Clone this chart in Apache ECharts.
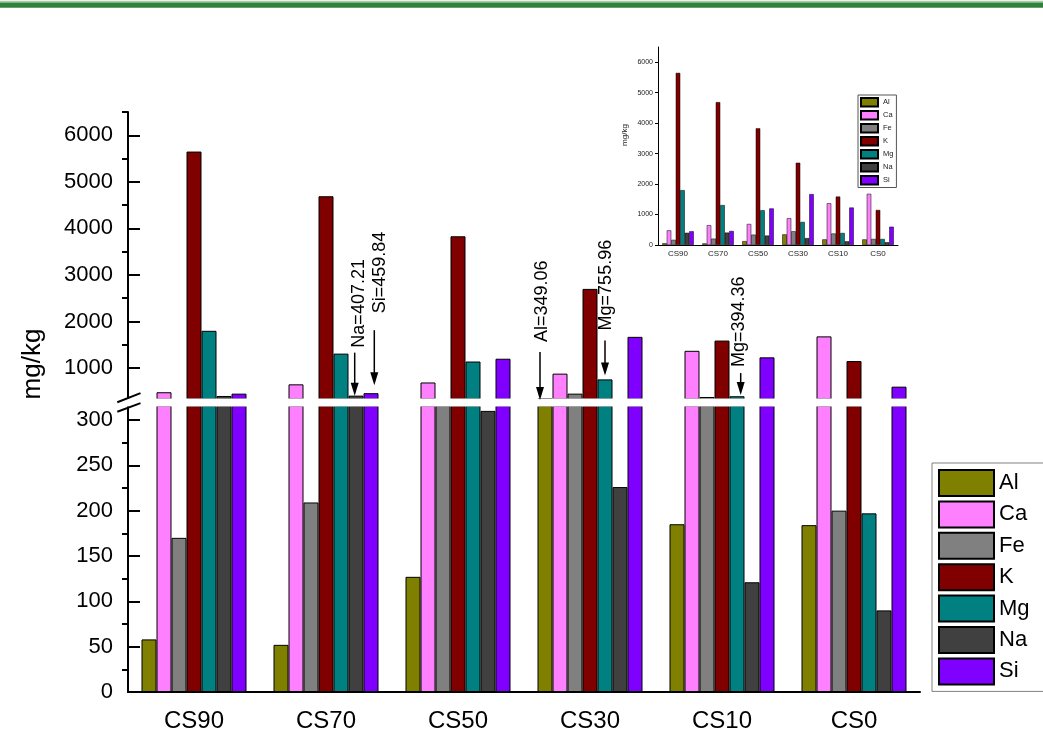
<!DOCTYPE html>
<html><head><meta charset="utf-8">
<script src="https://cdn.jsdelivr.net/npm/echarts@6/dist/echarts.min.js"></script>
<style>html,body{margin:0;padding:0;background:#fff}#c{width:1043px;height:739px}</style>
</head><body><div id="c"></div>
<script>
// ---- data ----
const categories = ['CS90', 'CS70', 'CS50', 'CS30', 'CS10', 'CS0'];
const elements = ['Al', 'Ca', 'Fe', 'K', 'Mg', 'Na', 'Si'];
const Al = [58, 52, 127, 349.06, 185, 184];
const Ca = [480, 650, 690, 880, 1370, 1680];
const Fe = [170, 209, 340, 450, 378, 200];
const K  = [5650, 4690, 3830, 2700, 1590, 1150];
const Mg = [1800, 1310, 1140, 755.96, 394.36, 197];
const Na = [400, 407.21, 310, 226, 121, 90];
const Si = [450, 459.84, 1200, 1670, 1230, 600];
const upperTicks = [1000, 2000, 3000, 4000, 5000, 6000];
const upperMinorTicks = [1500, 2500, 3500, 4500, 5500, 6500];
const lowerTicks = [0, 50, 100, 150, 200, 250, 300];
const lowerMinorTicks = [25, 75, 125, 175, 225, 275];
const insetTicks = [0, 1000, 2000, 3000, 4000, 5000, 6000];
const annoElements = ['Na', 'Si', 'Al', 'Mg', 'Mg'];
const annoCategories = ['CS70', 'CS70', 'CS30', 'CS30', 'CS10'];
const annoValues = [407.21, 459.84, 349.06, 755.96, 394.36];

// ---- layout / style ----
const FONT = "'Liberation Sans', Arial, sans-serif";
const colors = ['#808000', '#FF80FF', '#808080', '#800000', '#008080', '#404040', '#8000FF'];
const seriesData = { Al, Ca, Fe, K, Mg, Na, Si };
const UPPER = { top: 112, height: 287, min: 335, max: 6500 };
const LOWER = { top: 406, height: 286, min: 0, max: 315.4 };
const LEFT = 128, WIDTH = 792, BAR_W = 15;
const INSET = { left: 658, top: 47, width: 240, height: 198 };
const annoLayout = [
  { dx: -1.3, tipGap: 0, len: 43, textGap: 5, textDx: 3.5 },
  { dx: 3.3, tipGap: 8, len: 55, textGap: 17, textDx: 9 },
  { dx: -5, tipGap: -1.7, len: 48, textGap: 10, textDx: -2.5 },
  { dx: 0, tipGap: 4, len: 35, textGap: 10, textDx: 1 },
  { dx: 3.7, tipGap: 1.2, len: 22, textGap: 6, textDx: 2 }
];
const plain = v => String(v);

const chart = echarts.init(document.getElementById('c'), null, { renderer: 'canvas' });

const series = [];
elements.forEach((el, i) => {
  const vals = seriesData[el];
  const st = { color: colors[i], borderColor: '#000', borderWidth: 1 };
  series.push({ name: el, type: 'bar', xAxisIndex: 0, yAxisIndex: 0, barWidth: BAR_W, barGap: '0%',
    data: vals.map(v => v > UPPER.min ? v : '-'), itemStyle: st, clip: true, silent: true });
  series.push({ name: el, type: 'bar', xAxisIndex: 1, yAxisIndex: 2, barWidth: BAR_W, barGap: '0%',
    data: vals.slice(), itemStyle: st, clip: true, silent: true });
  series.push({ name: el, type: 'bar', xAxisIndex: 2, yAxisIndex: 4, barWidth: 4.5, barGap: '0%',
    data: vals.slice(), itemStyle: { color: colors[i], borderColor: '#000', borderWidth: 0.5 }, clip: true, silent: true });
});

const axisBlack = { color: '#000', width: 2 };

const option = {
  animation: false,
  backgroundColor: '#fff',
  textStyle: { fontFamily: FONT },
  grid: [
    { left: LEFT, top: UPPER.top, width: WIDTH, height: UPPER.height },
    { left: LEFT, top: LOWER.top, width: WIDTH, height: LOWER.height },
    { left: INSET.left, top: INSET.top, width: INSET.width, height: INSET.height }
  ],
  xAxis: [
    { gridIndex: 0, type: 'category', data: categories, show: false },
    { gridIndex: 1, type: 'category', data: categories,
      axisLine: { lineStyle: axisBlack },
      axisTick: { alignWithLabel: true, length: 12, lineStyle: axisBlack },
      axisLabel: { fontSize: 24, color: '#000', margin: 17, fontFamily: FONT } },
    { gridIndex: 2, type: 'category', data: categories,
      axisLine: { lineStyle: { color: '#000', width: 1 } },
      axisTick: { alignWithLabel: true, length: 3, lineStyle: { color: '#000', width: 1 } },
      axisLabel: { fontSize: 8, color: '#222', margin: 5, fontFamily: FONT } }
  ],
  yAxis: [
    { gridIndex: 0, type: 'value', min: UPPER.min, max: UPPER.max, position: 'left',
      axisLine: { show: true, lineStyle: axisBlack },
      axisTick: { show: true, inside: true, length: 12, lineStyle: axisBlack, customValues: upperTicks },
      axisLabel: { customValues: upperTicks, formatter: plain, fontSize: 22, color: '#000', margin: 15, fontFamily: FONT },
      splitLine: { show: false } },
    { gridIndex: 0, type: 'value', min: UPPER.min, max: UPPER.max, position: 'left',
      axisLine: { show: false },
      axisTick: { show: true, inside: false, length: 6, lineStyle: axisBlack, customValues: upperMinorTicks },
      axisLabel: { show: false }, splitLine: { show: false } },
    { gridIndex: 1, type: 'value', min: LOWER.min, max: LOWER.max, position: 'left',
      axisLine: { show: true, lineStyle: axisBlack },
      axisTick: { show: true, inside: true, length: 12, lineStyle: axisBlack, customValues: lowerTicks },
      axisLabel: { customValues: lowerTicks, formatter: plain, fontSize: 22, color: '#000', margin: 15, fontFamily: FONT },
      splitLine: { show: false } },
    { gridIndex: 1, type: 'value', min: LOWER.min, max: LOWER.max, position: 'left',
      axisLine: { show: false },
      axisTick: { show: true, inside: false, length: 6, lineStyle: axisBlack, customValues: lowerMinorTicks },
      axisLabel: { show: false }, splitLine: { show: false } },
    { gridIndex: 2, type: 'value', min: 0, max: 6500, position: 'left',
      axisLine: { show: true, lineStyle: { color: '#000', width: 1 } },
      axisTick: { show: true, inside: false, length: 3, lineStyle: { color: '#000', width: 1 }, customValues: insetTicks },
      axisLabel: { customValues: insetTicks, formatter: plain, fontSize: 7, color: '#222', margin: 5, fontFamily: FONT },
      splitLine: { show: false } }
  ],
  legend: [
    { data: elements, orient: 'vertical', left: 932, top: 463, icon: 'rect',
      itemWidth: 55, itemHeight: 26, itemGap: 3.4, selectedMode: false,
      textStyle: { fontSize: 22, color: '#000', fontFamily: FONT },
      borderColor: '#808080', borderWidth: 1, padding: [6, 40, 6, 6], backgroundColor: '#fff' },
    { data: elements, orient: 'vertical', left: 858, top: 95, icon: 'rect',
      itemWidth: 17, itemHeight: 8.5, itemGap: 2.5, selectedMode: false,
      textStyle: { fontSize: 7.5, color: '#222', fontFamily: FONT },
      borderColor: '#555', borderWidth: 1, padding: [2, 3, 2, 2], backgroundColor: '#fff' }
  ],
  series: series
};
chart.setOption(option);

// ---- decorations & annotations (positions from the chart's own scales) ----
const gfx = [
  { type: 'rect', shape: { x: 0, y: 0.8, width: 1043, height: 1.6 }, style: { fill: '#A9C9A9' }, z: 100 },
  { type: 'rect', shape: { x: 0, y: 2.4, width: 1043, height: 5.4 }, style: { fill: '#31813A' }, z: 100 },
  { type: 'rect', shape: { x: 120, y: UPPER.top + UPPER.height - 0.5, width: 802, height: LOWER.top - (UPPER.top + UPPER.height) + 1.1 }, style: { fill: '#fff' }, z: 100 },
  { type: 'line', shape: { x1: 117.3, y1: 402.3, x2: 140.5, y2: 393.1 }, style: { stroke: '#000', lineWidth: 2 }, z: 101 },
  { type: 'line', shape: { x1: 117.3, y1: 411.7, x2: 140.5, y2: 403.1 }, style: { stroke: '#000', lineWidth: 2 }, z: 101 },
  { type: 'text', x: 33, y: 364, rotation: Math.PI / 2,
    style: { text: 'mg/kg', fontSize: 26, fontFamily: FONT, fill: '#000', align: 'center', verticalAlign: 'middle' }, z: 101 },
  { type: 'text', x: 625, y: 135, rotation: Math.PI / 2,
    style: { text: 'mg/kg', fontSize: 8, fontFamily: FONT, fill: '#222', align: 'center', verticalAlign: 'middle' }, z: 101 }
];

const gridBottom = UPPER.top + UPPER.height;
annoValues.forEach((v, k) => {
  const ci = categories.indexOf(annoCategories[k]);
  const si = elements.indexOf(annoElements[k]);
  const p = chart.convertToPixel({ xAxisIndex: 0, yAxisIndex: 0 }, [ci, v]);
  const barX = p[0] + (si - 3) * BAR_W;
  const top = Math.min(p[1], gridBottom);
  const L = annoLayout[k];
  const tipY = top - L.tipGap;
  const x = barX + L.dx;
  const tailY = tipY - L.len;
  gfx.push({ type: 'line', shape: { x1: x, y1: tailY, x2: x, y2: tipY - 10 }, style: { stroke: '#000', lineWidth: 1.5 }, z: 102 });
  gfx.push({ type: 'polygon', shape: { points: [[x - 4, tipY - 13], [x + 4, tipY - 13], [x, tipY]] }, style: { fill: '#000' }, z: 102 });
  gfx.push({ type: 'text', x: barX + L.textDx, y: tailY - L.textGap, rotation: Math.PI / 2,
    style: { text: annoElements[k] + '=' + v.toFixed(2), fontSize: 18, fontFamily: FONT, fill: '#000', align: 'left', verticalAlign: 'middle' }, z: 102 });
});
chart.setOption({ graphic: { elements: gfx } });
</script>
</body></html>
